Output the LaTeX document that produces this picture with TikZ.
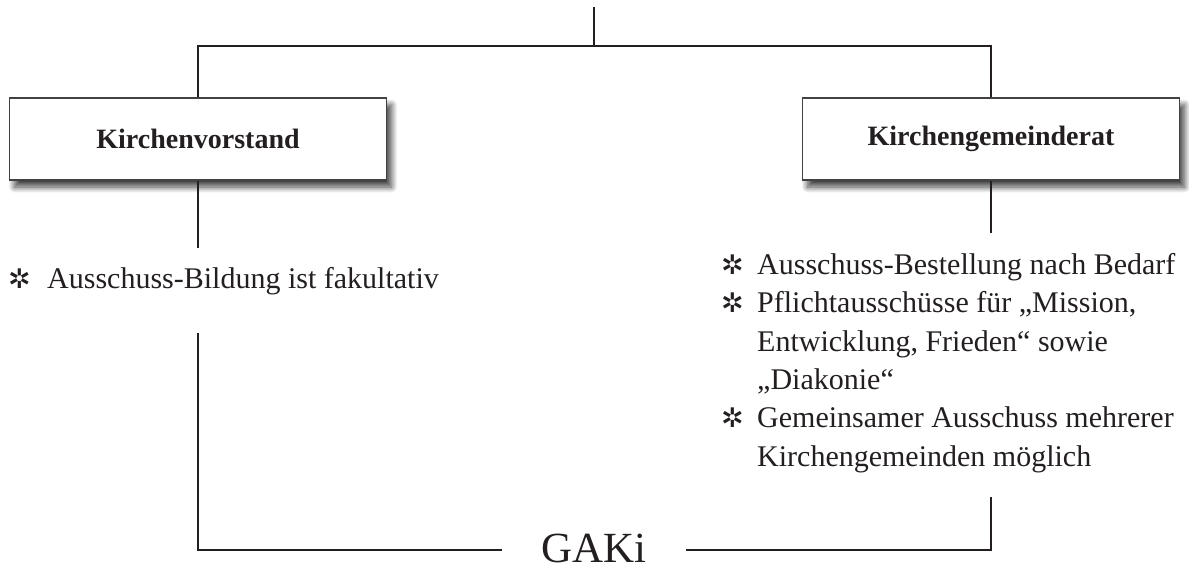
\documentclass[tikz,border=0pt]{standalone}
\usepackage{fontspec}
\setmainfont{Liberation Serif}
\newfontfamily\symfont{DejaVu Sans}
\usetikzlibrary{shadows.blur}
\definecolor{ink}{HTML}{231F20}
\begin{document}
\begin{tikzpicture}[x=1pt,y=-1pt,
  box/.style={draw=ink!85, line width=1.2pt, fill=white, minimum width=377pt, minimum height=82pt, inner sep=0pt,
    font=\fontsize{28}{34}\selectfont\bfseries, text=ink,
    blur shadow={shadow xshift=5pt, shadow yshift=-7pt, shadow blur radius=6pt, shadow blur steps=12, shadow opacity=75}},
  conn/.style={draw=ink, line width=2.3pt},
  item/.style={anchor=base west, inner sep=0pt, text=ink, font=\fontsize{30}{38}\selectfont},
  bul/.style={anchor=base west, inner sep=0pt, text=ink, font=\symfont\bfseries\fontsize{27}{30}\selectfont}
]
\useasboundingbox (0,0) rectangle (1189,572);

% boxes
\node[box] (kv) at (198,139) {Kirchenvorstand};
\node[box] (kgr) at (991,139) {Kirchengemeinderat};

% coordinates
\coordinate (top) at (594,7);
\coordinate (bar) at (594,46);
\coordinate (kvend) at (198,248);
\coordinate (kgrend) at (991,233);
\coordinate (lb) at (198,333);
\coordinate (rb) at (991,497);
\coordinate (gl) at (502,550);
\coordinate (gr) at (686,550);

% left items
\node[bul] (lb1) at (8,288) {✲};
\node[item] (l1) at (47,288) {Ausschuss-Bildung ist fakultativ};

% right items
\node[bul] (rb1) at (721,274) {✲};
\node[item] (r1) at (757,274) {Ausschuss-Bestellung nach Bedarf};
\node[bul] (rb2) at (721,312) {✲};
\node[item] (r2a) at (757,312) {Pflichtausschüsse für „Mission,};
\node[item] (r2b) at (757,351) {Entwicklung, Frieden“ sowie};
\node[item] (r2c) at (757,389) {„Diakonie“};
\node[bul] (rb3) at (721,427) {✲};
\node[item] (r3a) at (757,427) {Gemeinsamer Ausschuss mehrerer};
\node[item] (r3b) at (757,466) {Kirchengemeinden möglich};

% GAKi
\node[anchor=base, inner sep=0pt, text=ink, font=\fontsize{43}{48}\selectfont] (gaki) at (594,562) {GAKi};

% connectors
\draw[conn] (top) -- (bar);
\draw[conn] (kv.north) |- (bar) -| (kgr.north);
\draw[conn] (kv.south) -- (kvend);
\draw[conn] (kgr.south) -- (kgrend);
\draw[conn] (lb) |- (gl);
\draw[conn] (rb) |- (gr);
\end{tikzpicture}
\end{document}
